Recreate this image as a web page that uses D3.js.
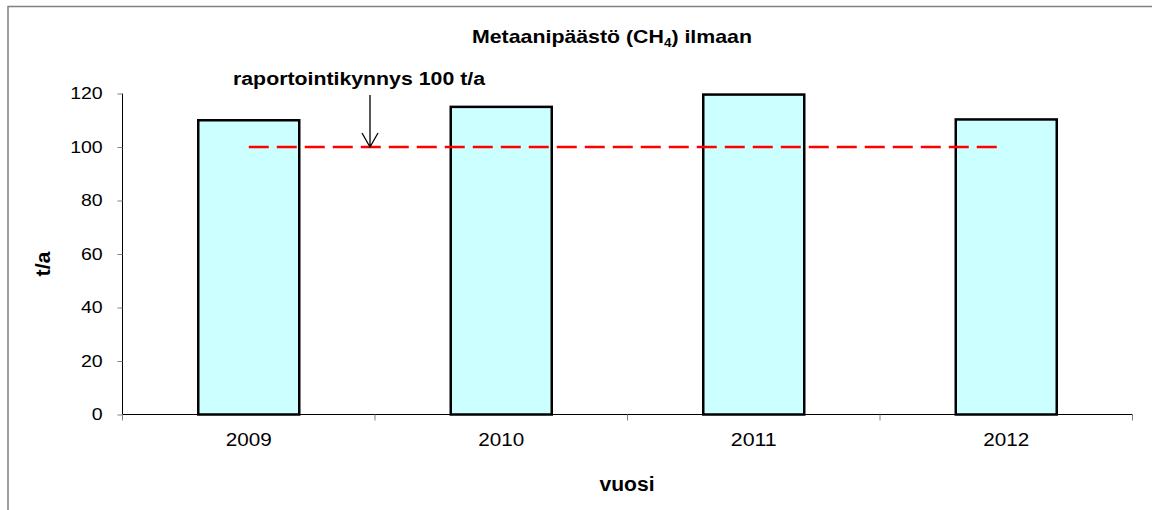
<!DOCTYPE html>
<html>
<head>
<meta charset="utf-8">
<script src="https://cdn.jsdelivr.net/npm/d3@7"></script>
<style>
  html, body { margin: 0; padding: 0; background: #fff; }
  svg { display: block; font-family: "Liberation Sans", Arial, sans-serif; }
</style>
</head>
<body>
<div id="chart"></div>
<script>
// datos
const years = ['2009', '2010', '2011', '2012'];
const values = [110, 115, 119.6, 110.3];
const threshold = 100;
const yTicks = [0, 20, 40, 60, 80, 100, 120];

const W = 1152, H = 510;
const margin = {top: 93.5, right: 20, bottom: 96, left: 122.5};
const width = 1132.5 - margin.left, height = 414.5 - margin.top;

const svg = d3.select('#chart').append('svg')
    .attr('width', W).attr('height', H);

// marco
svg.append('rect')
    .attr('x', 8).attr('y', 6.5)
    .attr('width', W + 10).attr('height', H + 10)
    .attr('fill', 'none').attr('stroke', '#808080').attr('stroke-width', 1.5);

const g = svg.append('g').attr('transform', `translate(${margin.left},${margin.top})`);

const x = d3.scaleBand().domain(years).range([0, width]).paddingInner(0.6).paddingOuter(0.3);
const xb = d3.scaleBand().domain(years).range([0, width]);
const y = d3.scaleLinear().domain([0, 120]).range([height, 0]);

// barras
g.selectAll('rect.bar')
    .data(values)
    .enter().append('rect')
    .attr('class', 'bar')
    .attr('x', (d, i) => x(years[i]))
    .attr('y', d => y(d))
    .attr('width', x.bandwidth())
    .attr('height', d => y(0) - y(d))
    .attr('fill', '#CCFFFF')
    .attr('stroke', '#000')
    .attr('stroke-width', 2.5);

// eje y
const yAxis = g.append('g').call(d3.axisLeft(y).tickValues(yTicks).tickSize(5));
yAxis.select('.domain').attr('stroke', '#000').attr('d', `M0,${height}V0`);
yAxis.selectAll('.tick line').attr('stroke', '#808080');
yAxis.selectAll('.tick text').attr('font-size', 17).attr('fill', '#000')
    .attr('x', -19.8 / 1.15)
    .attr('transform', 'scale(1.15,1)');

// eje x
const xAxis = g.append('g').attr('transform', `translate(0,${height})`)
    .call(d3.axisBottom(xb).tickSize(0).tickPadding(0));
xAxis.select('.domain').attr('stroke', '#000').attr('d', `M0,0H${width}`);
xAxis.selectAll('.tick text').attr('font-size', 19).attr('fill', '#000')
    .attr('dy', null).attr('y', 31.5)
    .attr('textLength', 46).attr('lengthAdjust', 'spacingAndGlyphs');
// marcas entre categorías
g.append('g').selectAll('line')
    .data(d3.range(years.length + 1))
    .enter().append('line')
    .attr('x1', i => i * xb.step()).attr('x2', i => i * xb.step())
    .attr('y1', height).attr('y2', height + 6)
    .attr('stroke', '#808080');

// línea de umbral
g.append('line')
    .attr('x1', xb('2009') + xb.bandwidth() / 2)
    .attr('x2', xb('2012') + xb.bandwidth() / 2 - 6)
    .attr('y1', y(threshold)).attr('y2', y(threshold))
    .attr('stroke', '#FF0000').attr('stroke-width', 2.5)
    .attr('stroke-dasharray', '20,8');

// flecha
const ax = 370 - margin.left;
g.append('path')
    .attr('d', `M${ax},${y(119.4)}V${y(threshold)}M${ax - 8},${y(threshold) - 14}L${ax},${y(threshold)}L${ax + 8},${y(threshold) - 14}`)
    .attr('fill', 'none').attr('stroke', '#000').attr('stroke-width', 1.3);

// textos
svg.append('text').attr('x', 612).attr('y', 43)
    .attr('text-anchor', 'middle').attr('font-weight', 'bold').attr('font-size', 19)
    .attr('textLength', 280).attr('lengthAdjust', 'spacingAndGlyphs')
    .html('Metaanipäästö (CH<tspan font-size="12" dy="4">4</tspan><tspan dy="-4">) ilmaan</tspan>');

svg.append('text').attr('x', 359).attr('y', 85)
    .attr('text-anchor', 'middle').attr('font-weight', 'bold').attr('font-size', 18)
    .attr('textLength', 252).attr('lengthAdjust', 'spacingAndGlyphs')
    .text('raportointikynnys 100 t/a');

svg.append('text').attr('transform', 'translate(50,264) rotate(-90)')
    .attr('text-anchor', 'middle').attr('font-weight', 'bold').attr('font-size', 20)
    .attr('textLength', 25).attr('lengthAdjust', 'spacingAndGlyphs')
    .text('t/a');

svg.append('text').attr('x', 627).attr('y', 491)
    .attr('text-anchor', 'middle').attr('font-weight', 'bold').attr('font-size', 20)
    .attr('textLength', 55).attr('lengthAdjust', 'spacingAndGlyphs')
    .text('vuosi');
</script>
</body>
</html>
